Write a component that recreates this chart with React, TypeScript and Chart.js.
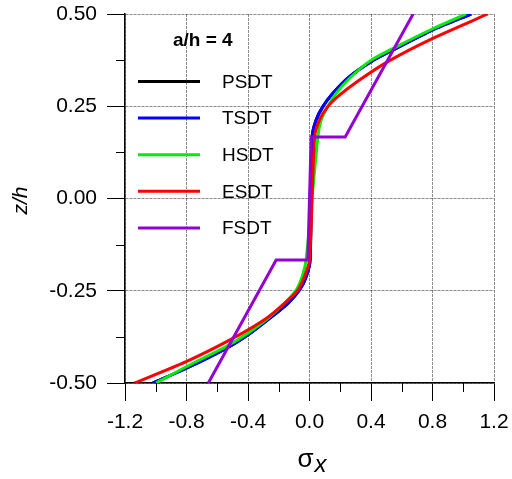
import React, { useEffect, useRef } from "react";
import { Chart, registerables } from "chart.js";

Chart.register(...registerables);

// ---- data ----
const seriesNames = ["PSDT", "TSDT", "HSDT", "ESDT", "FSDT"];
const seriesColors = ["#000000", "#0000ff", "#00ee00", "#ff0000", "#9400d3"];
const legendTitle = "a/h = 4";

const psdtZ = [-0.5, -0.46, -0.406, -0.37, -0.325, -0.284, -0.248, -0.212, -0.1667, 0.1667, 0.213, 0.249, 0.285, 0.33, 0.371, 0.407, 0.457, 0.5];
const psdtS = [-1.02, -0.8, -0.541, -0.4, -0.259, -0.14, -0.064, -0.021, 0.004, 0.017, 0.043, 0.087, 0.152, 0.26, 0.401, 0.564, 0.802, 1.05];

const tsdtZ = [-0.5, -0.46, -0.406, -0.37, -0.325, -0.284, -0.248, -0.212, -0.1667, 0.1667, 0.213, 0.249, 0.285, 0.33, 0.371, 0.407, 0.457, 0.5];
const tsdtS = [-1.019, -0.802, -0.542, -0.401, -0.26, -0.141, -0.065, -0.022, 0.004, 0.017, 0.043, 0.087, 0.152, 0.26, 0.401, 0.564, 0.802, 1.052];

const hsdtZ = [-0.5, -0.456, -0.401, -0.365, -0.325, -0.284, -0.248, -0.212, -0.1667, 0.1667, 0.213, 0.249, 0.285, 0.33, 0.375, 0.411, 0.46, 0.5];
const hsdtS = [-0.997, -0.802, -0.542, -0.401, -0.271, -0.163, -0.087, -0.048, -0.022, 0.054, 0.076, 0.119, 0.173, 0.271, 0.401, 0.564, 0.802, 1.019];

const esdtZ = [-0.5, -0.442, -0.379, -0.325, -0.28, -0.248, -0.212, -0.1667, 0.1667, 0.213, 0.249, 0.28, 0.321, 0.371, 0.434, 0.5];
const esdtS = [-1.138, -0.802, -0.499, -0.282, -0.152, -0.076, -0.033, 0.0, 0.033, 0.065, 0.119, 0.195, 0.325, 0.509, 0.802, 1.16];

const fsdtZ = [-0.5, -0.1667, -0.1667, 0.1667, 0.1667, 0.5];
const fsdtS = [-0.658, -0.217, -0.011, 0.011, 0.232, 0.674];

const seriesZ = [psdtZ, tsdtZ, hsdtZ, esdtZ, fsdtZ];
const seriesS = [psdtS, tsdtS, hsdtS, esdtS, fsdtS];
const seriesTension = [0.25, 0.25, 0.25, 0.25, 0];

const xMin = -1.2, xMax = 1.2, xStep = 0.4;
const yMin = -0.5, yMax = 0.5, yStep = 0.25;
const xMinorTicks = [-1.0, -0.6, -0.2, 0.2, 0.6, 1.0];
const yMinorTicks = [-0.375, -0.125, 0.125, 0.375];

const FONT = '"Liberation Sans", Arial, sans-serif';

const minorTickPlugin = {
  id: "minorTicks",
  afterDraw(chart: any) {
    const { ctx, chartArea, scales } = chart;
    ctx.save();
    ctx.strokeStyle = "#000";
    ctx.lineWidth = 1;
    ctx.beginPath();
    xMinorTicks.forEach((v) => {
      const px = Math.round(scales.x.getPixelForValue(v)) + 0.5;
      ctx.moveTo(px, chartArea.bottom);
      ctx.lineTo(px, chartArea.bottom + 9);
    });
    yMinorTicks.forEach((v) => {
      const py = Math.round(scales.y.getPixelForValue(v)) + 0.5;
      ctx.moveTo(chartArea.left, py);
      ctx.lineTo(chartArea.left - 9, py);
    });
    ctx.stroke();
    ctx.restore();
  },
};

const legendPlugin = {
  id: "insideLegend",
  afterDraw(chart: any) {
    const { ctx, chartArea } = chart;
    ctx.save();
    ctx.fillStyle = "#000";
    ctx.textBaseline = "middle";
    ctx.textAlign = "left";
    ctx.font = `bold 19px ${FONT}`;
    ctx.fillText(legendTitle, chartArea.left + 48, chartArea.top + 27);
    ctx.font = `19px ${FONT}`;
    chart.data.datasets.forEach((ds: any, i: number) => {
      const y = chartArea.top + 67.5 + i * 36.6;
      ctx.strokeStyle = ds.borderColor;
      ctx.lineWidth = 3;
      ctx.beginPath();
      ctx.moveTo(chartArea.left + 13, y);
      ctx.lineTo(chartArea.left + 75, y);
      ctx.stroke();
      ctx.fillStyle = "#000";
      ctx.fillText(ds.label, chartArea.left + 97, y + 1);
    });
    ctx.restore();
  },
};

const axisTitlePlugin = {
  id: "axisTitles",
  afterDraw(chart: any) {
    const { ctx, chartArea } = chart;
    ctx.save();
    ctx.fillStyle = "#000";
    ctx.textBaseline = "alphabetic";
    ctx.textAlign = "left";
    const cx = (chartArea.left + chartArea.right) / 2;
    ctx.font = `26px ${FONT}`;
    const sw = ctx.measureText("σ").width;
    ctx.font = `italic 24px ${FONT}`;
    const xw = ctx.measureText("x").width;
    const start = cx + 2 - (sw + xw) / 2;
    ctx.font = `26px ${FONT}`;
    ctx.fillText("σ", start, chartArea.bottom + 84);
    ctx.font = `italic 24px ${FONT}`;
    ctx.fillText("x", start + sw + 1, chartArea.bottom + 89);

    ctx.translate(chartArea.left - 104, (chartArea.top + chartArea.bottom) / 2 + 2);
    ctx.rotate(-Math.PI / 2);
    ctx.textAlign = "center";
    ctx.textBaseline = "middle";
    ctx.font = `italic 21px ${FONT}`;
    ctx.fillText("z/h", 0, 0);
    ctx.restore();
  },
};

export default function App() {
  const canvasRef = useRef<HTMLCanvasElement | null>(null);

  useEffect(() => {
    if (!canvasRef.current) return;
    const datasets = seriesNames.map((name, i) => ({
      label: name,
      data: seriesZ[i].map((z, j) => ({ x: seriesS[i][j], y: z })),
      borderColor: seriesColors[i],
      backgroundColor: seriesColors[i],
      borderWidth: 3,
      pointRadius: 0,
      showLine: true,
      tension: seriesTension[i],
      order: seriesNames.length - i,
    }));

    const gridOpts = {
      color: "rgba(0,0,0,0.45)",
      lineWidth: 1,
      tickLength: 18,
      tickColor: "#000",
      tickWidth: 1,
    };

    const chart = new Chart(canvasRef.current, {
      type: "scatter",
      data: { datasets },
      options: {
        animation: false,
        responsive: false,
        maintainAspectRatio: false,
        layout: { padding: { top: 14, right: 18, left: 0, bottom: 0 } },
        plugins: {
          legend: { display: false },
          tooltip: { enabled: false },
          title: { display: false },
        },
        scales: {
          x: {
            type: "linear",
            min: xMin,
            max: xMax,
            afterFit: (s: any) => {
              s.height = 96;
              s.paddingLeft = 0;
              s.paddingRight = 0;
            },
            ticks: {
              stepSize: xStep,
              color: "#000",
              padding: 9,
              maxRotation: 0,
              autoSkip: false,
              font: { size: 21, family: FONT },
              callback: (v: any) => {
                const n = Number(v);
                return Math.abs(n) < 1e-9 ? "0.0" : n.toFixed(1);
              },
            },
            grid: gridOpts,
            border: { display: true, color: "#000", width: 1.5, dash: [3, 1] },
          },
          y: {
            type: "linear",
            min: yMin,
            max: yMax,
            afterFit: (s: any) => {
              s.width = 125;
              s.paddingTop = 0;
              s.paddingBottom = 0;
            },
            ticks: {
              stepSize: yStep,
              color: "#000",
              padding: 10,
              autoSkip: false,
              font: { size: 21, family: FONT },
              callback: (v: any) => {
                const n = Number(v);
                return Math.abs(n) < 1e-9 ? "0.00" : n.toFixed(2);
              },
            },
            grid: gridOpts,
            border: { display: true, color: "#000", width: 1.5, dash: [3, 1] },
          },
        },
      },
      plugins: [minorTickPlugin, legendPlugin, axisTitlePlugin],
    });
    return () => chart.destroy();
  }, []);

  return (
    <div style={{ position: "absolute", left: 0, top: 0, width: 512, height: 479, background: "#fff" }}>
      <canvas ref={canvasRef} width={512} height={479} style={{ width: 512, height: 479, display: "block" }} />
    </div>
  );
}
